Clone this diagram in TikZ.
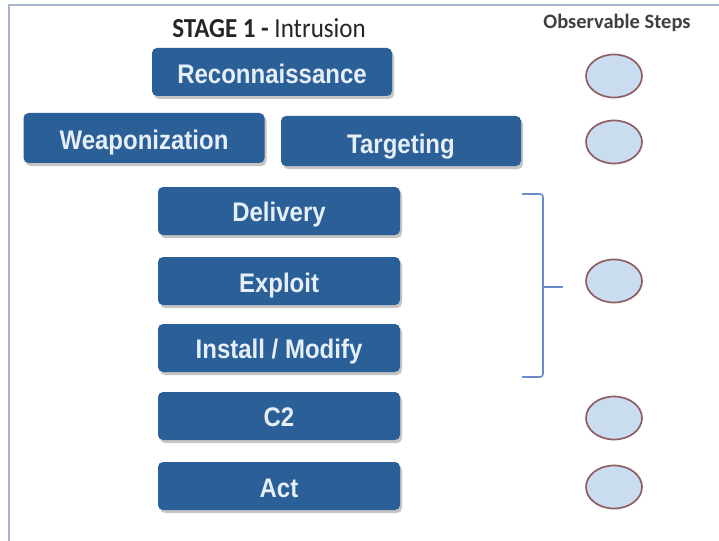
\documentclass[tikz,border=0pt]{standalone}
\usepackage{fontspec}
\setmainfont{Liberation Sans}
\newfontfamily\calfont{Carlito}
\usetikzlibrary{shadows,shapes.geometric}
\definecolor{boxblue}{HTML}{2B5F98}
\definecolor{boxtext}{HTML}{E6EEF8}
\definecolor{ovalfill}{HTML}{CADCF0}
\definecolor{ovalline}{HTML}{8E5E62}
\definecolor{framecol}{HTML}{A9B5CC}
\definecolor{bracecol}{HTML}{6A8CC8}
\newcommand{\tallt}[2][3pt]{\raisebox{-#1}[\height][\depth]{\scalebox{1.0}[1.12]{#2}}}
\tikzset{
  stepbox/.style={draw=none, fill=boxblue, rounded corners=5pt, minimum width=240pt, minimum height=48pt,
    text=boxtext, font=\bfseries\fontsize{24}{26}\selectfont,
    drop shadow={shadow xshift=2pt, shadow yshift=-3pt, fill=black!45, opacity=0.5}},
  oval/.style={ellipse, draw=ovalline, line width=1.7pt, fill=ovalfill, minimum width=56pt, minimum height=43pt, inner sep=0pt},
  brace/.style={draw=bracecol, line width=1.6pt}
}
\begin{document}
\begin{tikzpicture}[x=1pt,y=-1pt]
\useasboundingbox (0,0) rectangle (719,540);
\fill[white] (0,0) rectangle (719,540);
\draw[framecol, line width=1.8pt] (9,545) -- (9,5) -- (725,5);
\node[font=\calfont\fontsize{25}{28}\selectfont, text=black!85] (title) at (269,28) {\scalebox{1}[1.1]{\textbf{STAGE 1 -} Intrusion}};
\node[font=\calfont\bfseries\fontsize{20.5}{22}\selectfont, text=black!75] (obs) at (617,23) {Observable Steps};
\node[stepbox] (recon) at (272,72) {\tallt[2pt]{Reconnaissance}};
\node[stepbox, minimum width=241pt, minimum height=50pt] (weap) at (144,138) {\tallt[5pt]{Weaponization}};
\node[stepbox, minimum height=50pt] (targ) at (401,141) {\tallt[6pt]{Targeting}};
\node[stepbox, minimum width=242pt] (deliv) at (279,211) {\tallt[4pt]{Delivery}};
\node[stepbox, minimum width=242pt] (expl) at (279,281) {\tallt[5pt]{Exploit}};
\node[stepbox, minimum width=242pt] (inst) at (279,348) {\tallt[4pt]{Install / Modify}};
\node[stepbox, minimum width=242pt] (c2) at (279,416) {\tallt[1pt]{C2}};
\node[stepbox, minimum width=242pt] (act) at (279,486) {\tallt[2pt]{Act}};
\node[oval] (o1) at (614,76) {};
\node[oval] (o2) at (614,142) {};
\node[oval] (o3) at (614,281) {};
\node[oval] (o4) at (614,418) {};
\node[oval] (o5) at (614,487) {};
\coordinate (bt) at (522,194);
\coordinate (bb) at (522,377);
\coordinate (bm) at (563,287);
\draw[brace, rounded corners=3pt] (bt) -- (543,194) -- (543,377) -- (bb);
\draw[brace] (543,287) -- (bm);
\end{tikzpicture}
\end{document}
